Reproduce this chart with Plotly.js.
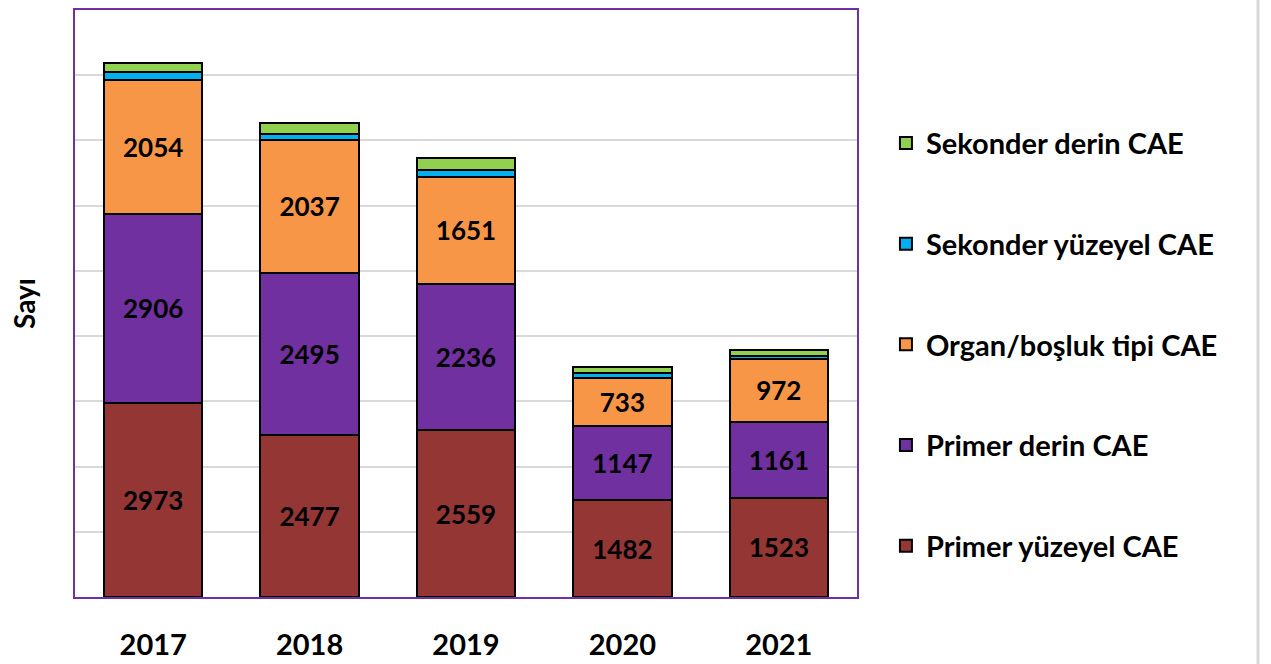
<!DOCTYPE html>
<html>
<head>
<meta charset="utf-8">
<script src="https://cdn.plot.ly/plotly-3.0.1.min.js"></script>
<style>html,body{margin:0;padding:0;background:#fff;}#chart{width:1271px;height:664px;}</style>
</head>
<body>
<div id="chart"></div>
<script>
var years = ['2017', '2018', '2019', '2020', '2021'];
var primerYuzeyel = [2973, 2477, 2559, 1482, 1523];
var primerDerin = [2906, 2495, 2236, 1147, 1161];
var organBosluk = [2054, 2037, 1651, 733, 972];
var sekonderYuzeyel = [113, 90, 104, 80, 35];
var sekonderDerin = [145, 175, 174, 88, 94];

var seriesNames = ['Primer yüzeyel CAE', 'Primer derin CAE', 'Organ/boşluk tipi CAE', 'Sekonder yüzeyel CAE', 'Sekonder derin CAE'];
var seriesValues = [primerYuzeyel, primerDerin, organBosluk, sekonderYuzeyel, sekonderDerin];
var seriesColors = ['#943634', '#7030A0', '#F79646', '#00B0F0', '#92D050'];
var showLabels = [true, true, true, false, false];

var FONT = 'Lato, "Open Sans", sans-serif';

var traces = seriesNames.map(function (name, i) {
  return {
    type: 'bar',
    name: name,
    x: years,
    y: seriesValues[i],
    legendgroup: 'g' + i,
    legendrank: 10 - i,
    marker: { color: seriesColors[i], line: { color: '#000000', width: 2 } },
    text: showLabels[i] ? seriesValues[i].map(String) : null,
    textposition: showLabels[i] ? 'inside' : 'none',
    insidetextanchor: 'middle',
    textangle: 0,
    textfont: { family: FONT, size: 26, color: '#000000', weight: 'bold' },
    hoverinfo: 'x+y+name'
  };
});

var layout = {
  width: 1271,
  height: 664,
  margin: { l: 75, r: 414, t: 10, b: 67 },
  paper_bgcolor: '#ffffff',
  plot_bgcolor: '#ffffff',
  barmode: 'stack',
  bargap: 0.37,
  font: { family: FONT, color: '#000000' },
  showlegend: true,
  legend: {
    x: 1.037, xanchor: 'left',
    y: 0.43, yanchor: 'middle',
    traceorder: 'grouped',
    tracegroupgap: 60,
    font: { family: FONT, size: 29, color: '#000000', weight: 'bold' },
    bgcolor: 'rgba(0,0,0,0)'
  },
  xaxis: {
    type: 'category',
    showline: true, linecolor: '#7030A0', linewidth: 2, mirror: true,
    showgrid: false, zeroline: false, ticks: '',
    tickfont: { family: FONT, size: 29, color: '#000000', weight: 'bold' },
    ticklabelstandoff: 21
  },
  yaxis: {
    range: [0, 9000], dtick: 1000,
    showline: true, linecolor: '#7030A0', linewidth: 2, mirror: true,
    showgrid: true, gridcolor: '#d9d9d9', gridwidth: 2,
    zeroline: false, showticklabels: false, ticks: '',
    title: { text: 'Sayı', font: { family: FONT, size: 28, color: '#000000', weight: 'bold' }, standoff: 29 }
  },
  shapes: [
    { type: 'line', xref: 'paper', yref: 'paper', x0: 1.5128, x1: 1.5128, y0: -0.12, y1: 1.02,
      line: { color: '#d9d9d9', width: 3 } }
  ]
};

Plotly.newPlot('chart', traces, layout, { displayModeBar: false, staticPlot: true });
</script>
</body>
</html>
